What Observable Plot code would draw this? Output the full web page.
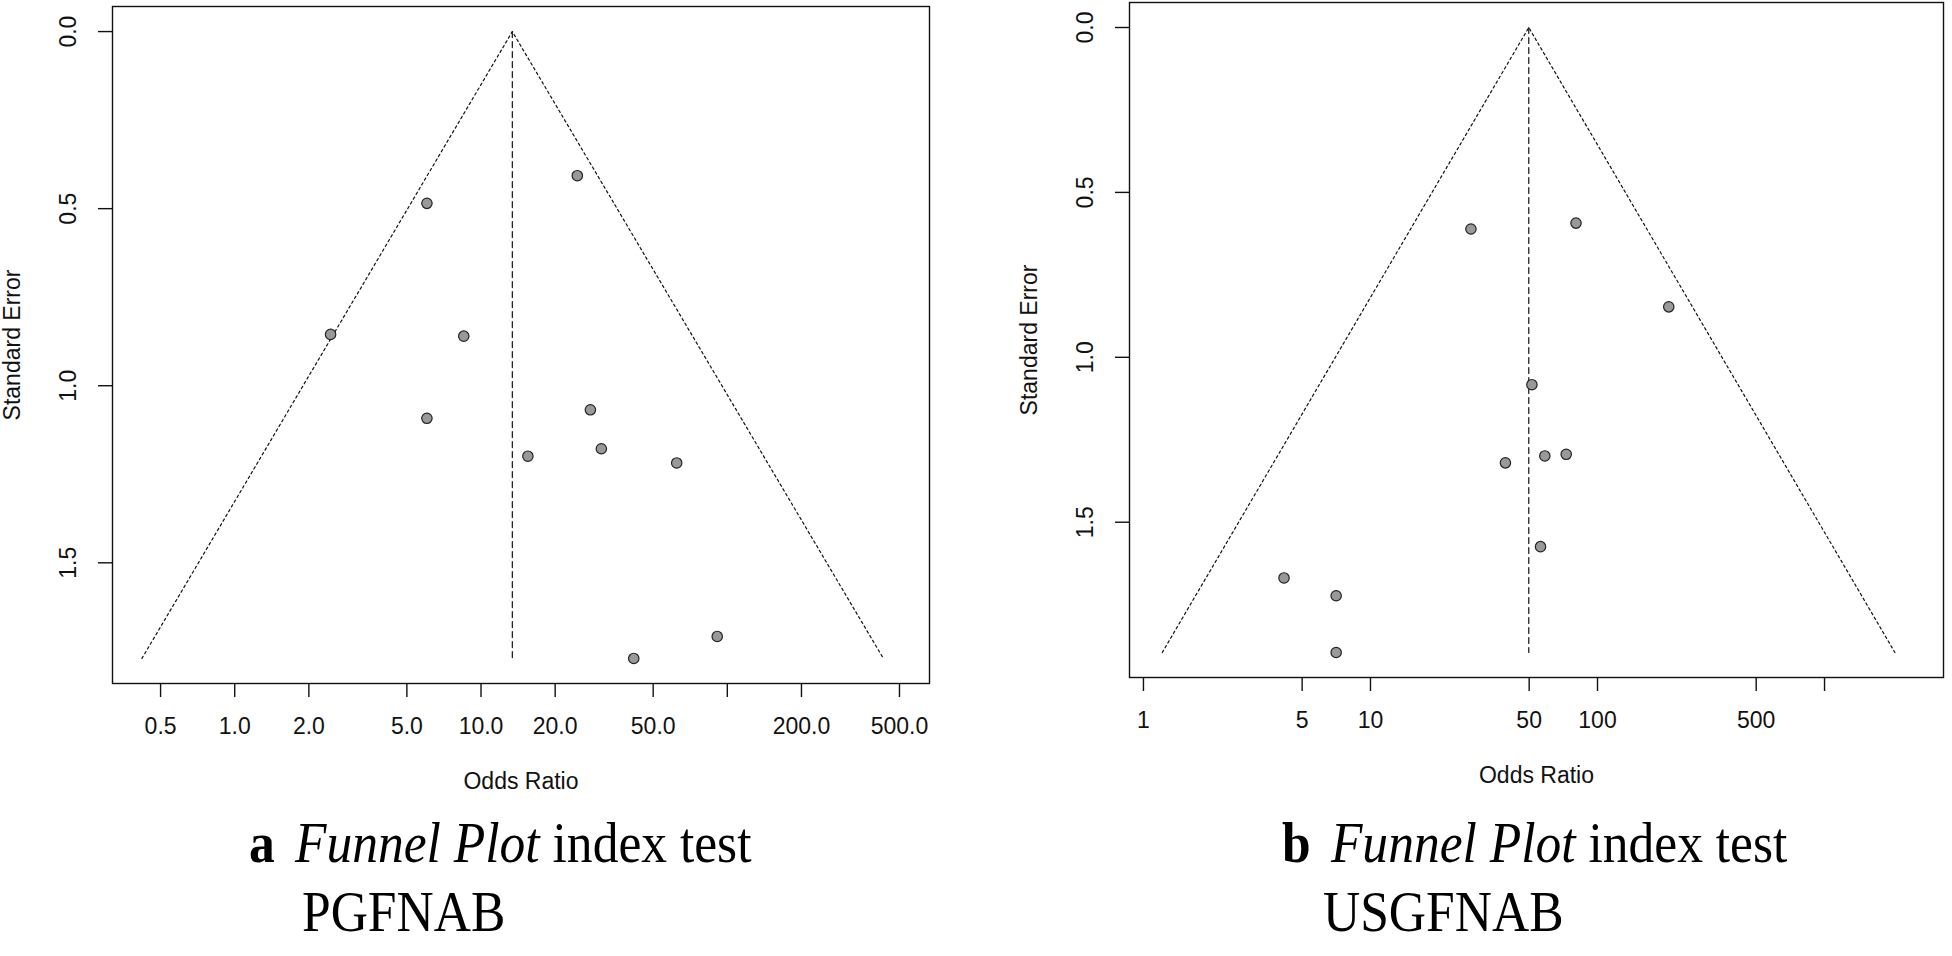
<!DOCTYPE html>
<html>
<head>
<meta charset="utf-8">
<script src="https://cdn.jsdelivr.net/npm/d3@7"></script>
<script src="https://cdn.jsdelivr.net/npm/@observablehq/plot@0.6"></script>
<style>
  html, body { margin: 0; padding: 0; background: #fff; }
  body { width: 1952px; height: 956px; position: relative; overflow: hidden; }
  .panel { position: absolute; top: 0; }
  .cap { position: absolute; font-family: "Liberation Serif", "Times New Roman", serif; font-size: 56px; line-height: 56px; color: #000; white-space: nowrap; transform: scaleX(0.92); transform-origin: 0 0; }
  .cap b { font-weight: bold; margin-right: 22px; }
</style>
</head>
<body>
<div id="pa" class="panel" style="left:0px"></div>
<div id="pb" class="panel" style="left:980px"></div>
<div class="cap" style="left:249px; top:815px"><b>a</b><i>Funnel Plot</i> index test</div>
<div class="cap" style="left:302px; top:884px">PGFNAB</div>
<div class="cap" style="left:1282px; top:815px"><b>b</b><i>Funnel Plot</i> index test</div>
<div class="cap" style="left:1323px; top:884px">USGFNAB</div>
<script>
// ---- Panel a: PGFNAB ----
const oddsRatioA = [24.6, 6.03, 2.45, 8.51, 6.03, 27.8, 30.8, 15.5, 62.3, 91.0, 41.7];
const stdErrA    = [0.407, 0.485, 0.855, 0.860, 1.092, 1.068, 1.178, 1.199, 1.218, 1.708, 1.770];
const funnelOrA  = [0.42, 13.4, 430];   // lower edge, pooled estimate, upper edge
const funnelSeA  = [1.77, 0, 1.77];
const xTicksA    = [0.5, 1, 2, 5, 10, 20, 50, 100, 200, 500];
const xLabelsA   = ["0.5", "1.0", "2.0", "5.0", "10.0", "20.0", "50.0", "", "200.0", "500.0"];
const xDomainA   = [0.319, 662];
const yDomainA   = [-0.0708, 1.8408];

// ---- Panel b: USGFNAB ----
const oddsRatioB = [27.7, 80.4, 206, 51.4, 39.3, 58.6, 72.8, 56.1, 4.16, 7.06, 7.06];
const stdErrB    = [0.611, 0.593, 0.847, 1.083, 1.320, 1.299, 1.294, 1.574, 1.669, 1.723, 1.895];
const funnelOrB  = [1.21, 49.8, 2042];
const funnelSeB  = [1.895, 0, 1.895];
const xTicksB    = [1, 5, 10, 50, 100, 500, 1000];
const xLabelsB   = ["1", "5", "10", "50", "100", "500", ""];
const xDomainB   = [0.868, 3342];
const yDomainB   = [-0.0758, 1.9708];

const yTicks  = [0, 0.5, 1, 1.5];
const yLabels = ["0.0", "0.5", "1.0", "1.5"];

function funnel({or, se, fOr, fSe, xTicks, xLabels, xDomain, yDomain, width, height, mL, mR, mT, mB}) {
  const pts = or.map((d, i) => ({or: d, se: se[i]}));
  const sides = fOr.map((d, i) => ({or: d, se: fSe[i]}));
  const centre = [{or: fOr[1], se: fSe[1]}, {or: fOr[1], se: fSe[0]}];
  const ink = "#111";
  return Plot.plot({
    width, height,
    marginLeft: mL, marginRight: mR, marginTop: mT, marginBottom: mB,
    style: {fontFamily: "'Liberation Sans', Arial, sans-serif", fontSize: "23px", background: "#fff", color: ink, overflow: "visible"},
    x: {type: "log", domain: xDomain},
    y: {domain: yDomain, reverse: true},
    marks: [
      Plot.line(sides, {x: "or", y: "se", stroke: ink, strokeWidth: 1.2, strokeDasharray: "2.5,3"}),
      Plot.line(centre, {x: "or", y: "se", stroke: ink, strokeWidth: 1.2, strokeDasharray: "6,4"}),
      Plot.dot(pts, {x: "or", y: "se", r: 5.2, fill: "#999", stroke: "#222", strokeWidth: 1.2}),
      Plot.frame({stroke: ink, strokeWidth: 1.4}),
      Plot.axisX(xTicks, {tickSize: 14, strokeWidth: 1.4, stroke: ink, tickFormat: () => "", label: null}),
      Plot.text(xTicks, {x: d => d, frameAnchor: "bottom", dy: 43, text: (d, i) => xLabels[i],
        textAnchor: "middle", lineAnchor: "middle", fontSize: 23, fill: ink}),
      Plot.axisY(yTicks, {tickSize: 14, strokeWidth: 1.4, stroke: ink, tickFormat: () => "", label: null}),
      Plot.text(yTicks, {y: d => d, frameAnchor: "left", dx: -44, rotate: -90, text: (d, i) => yLabels[i],
        textAnchor: "middle", lineAnchor: "middle", fontSize: 23, fill: ink}),
      Plot.text(["Odds Ratio"], {frameAnchor: "bottom", dy: 98, text: d => d, lineAnchor: "middle", fontSize: 23, fill: ink}),
      Plot.text(["Standard Error"], {frameAnchor: "left", dx: -100, rotate: -90, text: d => d,
        textAnchor: "middle", lineAnchor: "middle", fontSize: 23, fill: ink})
    ]
  });
}

document.getElementById("pa").appendChild(funnel({
  or: oddsRatioA, se: stdErrA, fOr: funnelOrA, fSe: funnelSeA,
  xTicks: xTicksA, xLabels: xLabelsA, xDomain: xDomainA, yDomain: yDomainA,
  width: 960, height: 810, mL: 112, mR: 31, mT: 6, mB: 127
}));
document.getElementById("pb").appendChild(funnel({
  or: oddsRatioB, se: stdErrB, fOr: funnelOrB, fSe: funnelSeB,
  xTicks: xTicksB, xLabels: xLabelsB, xDomain: xDomainB, yDomain: yDomainB,
  width: 972, height: 810, mL: 149, mR: 9, mT: 2, mB: 133
}));
</script>
</body>
</html>
